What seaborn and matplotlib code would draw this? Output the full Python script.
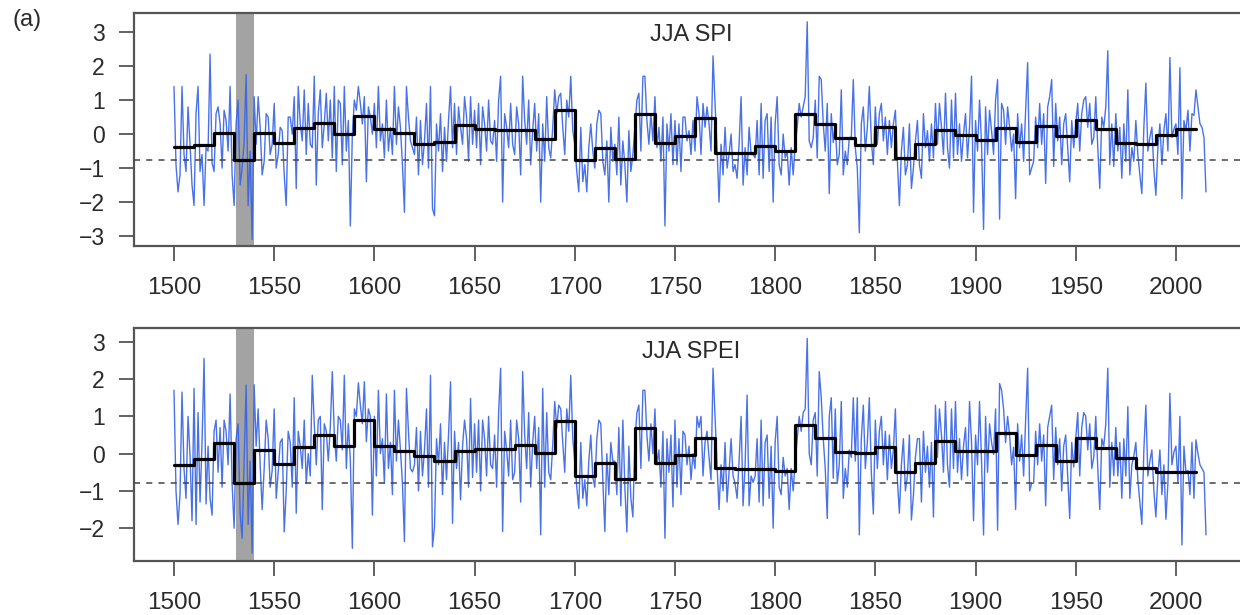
import matplotlib
matplotlib.use("Agg")
import matplotlib.pyplot as plt
import seaborn as sns
import pandas as pd

# annual JJA values, 1500-2015 (one row per decade)
years = list(range(1500, 2016))

spi = [
    1.4, -0.9, -1.7, -1.2, 1.4, -0.6, -1.1, 0.8, -0.3, -1.5,
    -2.1, 0.6, 1.4, -1.1, -0.6, -2.1, -0.4, -0.5, 2.35, -0.85,
    -1.1, 0.6, 0.8, 0.3, -1.0, 0.7, 0.4, -0.5, 1.4, -1.2,
    -2.1, 0.3, 1.0, -1.5, -1.0, -0.25, 1.75, -2.1, -0.5, -3.1,
    1.1, -0.3, 1.1, 0.2, -1.2, -0.8, 0.6, 0.5, -0.6, -0.3,
    0.9, -1.0, -0.6, 0.2, 0.1, -1.2, -2.1, 0.5, 0.5, 0.0,
    1.1, -1.6, 1.4, 0.3, -0.2, 1.3, -0.6, 0.9, -0.3, -0.4,
    1.7, -1.5, 0.6, 1.3, -0.4, 0.3, 1.2, -0.2, 1.0, -0.7,
    1.4, -1.1, 1.0, 0.9, -0.9, 1.4, -0.5, 0.4, -2.7, 0.0,
    1.0, 0.7, 1.4, 0.9, 0.3, 1.1, -1.4, 0.8, 0.5, 0.0,
    0.9, -0.4, 1.4, -0.2, 0.3, -0.7, 1.0, -0.5, 0.2, -0.6,
    1.4, -0.3, 0.8, 0.2, -0.9, -2.3, 1.4, 0.5, -0.2, -0.4,
    -0.6, 0.5, -1.2, 0.4, -0.9, -0.2, 0.9, -1.0, 1.4, -2.2,
    -2.4, 0.3, -0.5, 0.6, -1.1, 0.2, -0.8, 0.4, 1.4, -0.4,
    0.9, -0.6, 0.8, 0.2, -0.3, 1.1, 0.5, -0.8, 1.1, -0.3,
    0.7, -0.4, 0.9, -0.9, 0.8, 0.3, -0.5, 1.0, -0.2, -0.3,
    0.4, -0.8, 1.0, 1.7, -2.0, 0.6, 0.2, -0.4, 0.9, -0.3,
    -0.6, 0.8, 0.3, -1.2, 1.7, 0.4, -0.3, 1.0, -0.9, 0.1,
    0.9, -0.5, 0.6, -2.0, 0.3, -0.8, 1.1, -0.4, -0.7, 0.2,
    1.3, 0.6, 1.1, 1.2, 0.2, -0.6, 1.0, 0.5, 1.7, 0.1,
    -0.3, -1.1, -1.7, 0.2, -1.4, -0.9, -1.7, -0.4, 0.3, -0.5,
    -1.0, 0.3, 0.7, 0.6, -0.8, -1.2, -0.2, -2.0, 0.2, -0.8,
    -0.3, -1.2, 0.5, -1.5, -0.2, -0.9, -2.0, 0.1, -1.1, -0.6,
    0.2, 1.0, 1.2, -0.5, 1.7, 1.7, 0.4, -0.3, 0.6, -0.2,
    1.1, -0.4, 0.2, -0.8, 0.5, -2.7, 0.3, -0.5, 0.6, -0.9,
    0.4, -0.9, 0.3, -1.1, 0.5, 0.5, -0.2, 0.1, -0.6, 0.4,
    -0.5, 1.1, 0.6, -0.6, 0.9, 0.2, 0.8, 0.3, -0.5, 2.3,
    0.9, -0.4, -2.0, -0.3, -1.2, 0.2, -1.0, -0.6, 0.0, -1.1,
    -0.9, -1.3, -0.3, 1.1, -1.5, -0.4, -1.2, 0.2, -0.6, -0.6,
    -0.7, 0.4, -1.2, 0.9, -1.3, 0.4, 0.6, -1.1, 0.5, -2.0,
    0.3, 1.1, -0.9, -1.2, 0.0, -0.7, -0.5, -1.5, -0.4, -1.2,
    -0.3, 0.2, 0.9, 0.5, 0.8, 1.1, 3.3, -0.2, -0.4, -0.1,
    1.0, -0.7, 1.7, 1.6, 0.3, -0.5, 0.9, -1.75, 0.6, -0.25,
    0.3, -0.9, -0.6, 1.3, -1.2, -0.5, -0.9, -0.1, -0.1, 1.6,
    -0.4, -1.0, -2.9, 0.3, 0.8, -0.5, 0.2, 1.4, -0.2, -0.9,
    0.8, -0.3, 0.6, 0.9, -0.2, 0.5, -0.6, 0.4, -0.4, 0.3,
    0.7, -0.8, -2.1, -0.5, 0.2, -1.2, -0.9, 0.3, -1.6, -1.0,
    -0.2, 0.4, -0.9, -1.3, 0.6, -0.4, 0.1, -0.8, 0.3, -0.7,
    0.9, -0.3, 0.9, 0.2, -0.6, 1.2, -0.4, -1.0, 1.0, -0.7,
    1.2, -0.6, 0.3, -0.8, 0.0, 0.6, -0.7, 0.2, 1.7, -2.3,
    0.4, -0.5, 1.0, -0.3, -2.8, 0.8, -0.6, 0.7, 0.1, -0.6,
    1.0, 1.6, -2.5, 0.9, 0.7, -0.3, 0.8, 0.2, -0.5, 0.0,
    -1.9, 0.6, -0.4, 0.3, -0.8, 0.7, 2.1, -1.2, -1.0, -0.8,
    0.5, -0.4, 0.9, -0.3, 0.6, -1.45, 0.8, 1.1, 1.6, -0.95,
    0.9, -0.2, 0.5, -0.9, 0.3, 0.6, -0.4, -1.4, 0.4, -0.4,
    0.3, 0.9, -0.5, 0.6, 1.0, 1.1, 0.2, 0.9, -0.3, -0.1,
    1.1, -0.4, -1.6, 0.5, 0.2, 0.8, 2.45, -0.9, 0.3, -0.95,
    0.6, -0.5, 0.2, -1.3, 0.3, -0.8, 1.3, -1.2, -0.4, -0.8,
    0.4, -0.6, -1.2, -1.75, 0.2, 1.5, -0.5, -0.1, 0.2, -1.05,
    -1.8, -0.4, 0.3, -0.9, 0.1, 0.6, -0.5, 2.25, -0.1, 0.15,
    0.3, -0.6, 1.95, -1.9, 0.4, 0.1, 0.7, -0.5, 0.6, 0.55,
    1.3, 0.8, 0.3, 0.2, -0.1, -1.7,
]

spei = [
    1.7, -1.0, -1.9, -1.1, 1.65, -0.4, -1.2, 1.0, -0.05, -1.8,
    1.75, -1.9, 1.1, -1.3, 0.3, 2.55, -1.35, 0.2, -1.2, -1.65,
    0.6, 0.9, -0.5, 0.7, -0.9, 0.9, 0.6, -0.3, 1.6, -0.8,
    -2.0, 0.4, 0.8, -1.6, -2.27, -0.2, 1.84, -1.9, -0.2, -2.67,
    1.85, 0.2, 1.2, -0.3, -1.5, -0.4, 0.9, 0.4, -0.9, -0.45,
    1.2, -1.2, -0.5, 0.3, 0.4, -2.1, -1.0, 0.6, 0.3, -0.9,
    1.5, -1.6, 0.6, 0.2, -0.4, 0.9, -0.8, 0.0, -0.6, 2.1,
    0.8, -0.3, 0.9, 1.0, -1.5, 0.8, 0.6, -0.2, 0.7, 2.2,
    0.5, -0.2, 1.0, 0.9, 0.1, 2.1, -0.4, 0.8, -0.16, -2.54,
    1.2, 1.0, 1.9, 1.3, 0.8, 1.93, 0.32, 1.2, 1.0, -1.65,
    1.0, -0.6, 1.7, 0.0, 0.4, -0.8, 1.6, -0.4, 0.3, -1.1,
    1.7, -0.2, 0.9, 0.1, -0.8, -2.36, 1.75, 0.6, -0.4, -0.49,
    -0.3, 0.7, -1.0, 0.6, -0.6, 0.1, 1.2, -0.9, 2.1, -2.5,
    -1.96, 0.4, -0.3, 0.8, -1.1, 0.3, -0.7, 0.5, 1.93, -1.87,
    0.6, -0.4, 0.3, -1.24, 0.2, 0.9, 0.4, -0.9, 1.48, -0.64,
    0.8, -0.5, 0.9, -1.0, 0.9, 0.4, -0.6, 1.0, -0.3, -0.4,
    0.5, -0.9, 1.1, 2.29, -2.09, 0.6, 0.1, -0.6, 0.9, -0.7,
    -0.5, 0.9, 0.4, -1.3, 2.2, 0.5, -0.4, 1.1, -0.9, 0.3,
    1.0, -0.4, 0.7, -2.18, 1.75, -0.9, 1.1, -0.5, -0.7, 0.23,
    1.4, 0.7, 1.3, 1.2, 0.3, -0.5, 1.2, 0.6, 2.1, 0.4,
    -0.2, -0.9, -1.47, 0.3, -1.2, -0.7, -1.4, -0.2, 0.5, -0.63,
    -0.9, 0.4, 0.9, 0.8, -0.7, -2.09, 0.0, -1.1, 0.3, -0.21,
    -0.2, -1.1, 0.7, -1.4, 0.9, -0.9, -2.1, 0.2, -1.2, -1.7,
    0.3, 1.1, 1.3, -0.4, 1.7, 1.7, 0.5, -0.2, 0.8, 0.0,
    1.2, -0.3, 0.1, -0.9, 0.6, -2.27, 0.4, -0.5, 0.5, -1.43,
    0.9, -0.9, 0.4, -1.1, 0.6, 0.5, -0.3, 0.2, -0.7, 0.0,
    -0.4, 1.0, 0.7, 1.0, -0.6, 0.3, 0.6, -0.1, -0.7, 2.29,
    1.0, -0.3, -1.5, -0.3, -1.0, 0.3, -1.3, -0.5, 0.4, -0.6,
    -0.8, -1.2, -0.2, 1.0, -1.4, -0.3, 1.57, -1.4, -0.6, -0.77,
    -0.6, 0.4, -1.3, 0.9, -1.4, 0.3, 0.5, -1.2, 0.2, -2.0,
    0.3, 1.0, -0.9, -1.1, -0.1, -0.6, -0.4, -1.5, -0.4, -1.0,
    -0.2, 0.4, 1.0, 0.6, 1.1, 1.2, 3.09, 0.0, -0.3, 0.91,
    1.1, -0.6, 2.2, 1.5, 0.4, -0.4, -1.74, 1.0, 1.5, -0.66,
    1.2, -0.8, -0.3, 1.4, -1.2, -0.4, -0.9, 0.1, -0.1, 1.5,
    -0.2, 1.5, -2.18, 0.4, 1.3, -0.4, 0.3, 1.5, -0.5, -1.62,
    0.9, -0.4, 0.6, 1.0, -0.3, 0.6, -0.7, 0.5, -0.4, 0.1,
    1.2, -0.7, -1.6, -0.3, 0.4, -1.0, -0.6, 0.5, -1.78, -1.12,
    -0.1, 0.4, 0.4, -1.3, 0.6, -0.5, 0.2, -0.9, 0.3, -1.7,
    1.3, -0.1, 1.2, 0.5, -0.5, 1.4, -0.3, -0.9, 1.2, -0.4,
    1.4, -0.5, 0.4, -0.7, 0.2, 0.7, -0.6, 1.4, 0.3, -1.8,
    0.5, -0.3, 1.4, -0.2, -2.18, 1.0, -0.5, 0.8, 0.3, -0.02,
    1.2, -2.05, 1.88, 1.7, 1.2, 0.3, 1.0, 0.5, -0.3, 0.17,
    -1.5, 0.8, -0.2, 0.5, -0.6, 0.9, 2.29, -1.0, -0.8, -0.79,
    0.6, -0.3, 0.8, -0.2, 0.5, -1.4, 0.7, 1.0, 1.3, -0.7,
    0.7, -0.3, 0.4, -1.0, 0.2, 0.5, -0.6, -1.74, 0.3, -0.36,
    0.4, 1.1, -0.6, 0.7, 1.1, 1.0, 0.1, 0.8, -0.4, -0.1,
    1.0, -0.4, -1.5, 0.4, 0.2, 0.8, 2.29, -0.9, 0.3, -0.59,
    0.7, -0.6, 0.3, -1.2, 0.4, -0.6, 1.26, -1.2, -0.3, -0.06,
    0.3, -0.7, -1.3, -1.9, 0.1, 1.3, -0.6, -0.2, 0.1, -1.0,
    -1.7, -0.6, 0.1, -1.1, -0.3, -1.76, -0.8, 1.62, -0.3, 0.04,
    0.2, -0.8, 1.0, -2.45, 0.2, -0.5, -0.45, -1.1, 0.3, -1.2,
    0.37, 0.0, -0.3, -0.4, -0.5, -2.18,
]

# decadal means (black steps), 1500s ... 2000s
decades = list(range(1500, 2001, 10))
spi_decadal = [
    -0.37, -0.33, 0.04, -0.75, 0.03, -0.27, 0.19, 0.33, -0.01, 0.53,
    0.14, 0.02, -0.29, -0.23, 0.26, 0.14, 0.13, 0.13, -0.13, 0.71,
    -0.75, -0.42, -0.72, 0.58, -0.26, -0.06, 0.46, -0.55, -0.55, -0.35,
    -0.50, 0.58, 0.29, -0.11, -0.32, 0.20, -0.69, -0.29, 0.12, -0.04,
    -0.18, 0.19, -0.24, 0.24, -0.06, 0.41, 0.15, -0.26, -0.29, -0.03,
    0.16,
]
spei_decadal = [
    -0.31, -0.15, 0.28, -0.78, 0.10, -0.29, 0.19, 0.50, 0.21, 0.90,
    0.21, 0.08, -0.06, -0.20, 0.07, 0.12, 0.12, 0.23, 0.01, 0.87,
    -0.59, -0.26, -0.68, 0.68, -0.26, -0.04, 0.41, -0.38, -0.41, -0.42,
    -0.47, 0.78, 0.43, 0.05, 0.01, 0.19, -0.50, -0.26, 0.34, 0.08,
    0.08, 0.56, -0.04, 0.23, -0.19, 0.41, 0.16, -0.13, -0.39, -0.48,
    -0.48,
]

thresholds = {"JJA SPI": -0.75, "JJA SPEI": -0.78}
shade_span = (1531, 1540)

assert len(spi) == len(years) and len(spei) == len(years)

sns.set_style("ticks")
plt.rcParams["font.family"] = ["Liberation Sans", "DejaVu Sans"]

fig = plt.figure(figsize=(12.4, 6.15), dpi=100)
ax1 = fig.add_axes([0.108, 0.600, 0.8985, 0.3789])
ax2 = fig.add_axes([0.108, 0.0878, 0.8985, 0.3789])


def draw_panel(ax, vals, dec_vals, title, ylim, yticks, title_y):
    df = pd.DataFrame({"year": years, "value": vals})
    steps = pd.DataFrame({"year": decades + [decades[-1] + 10],
                          "value": dec_vals + [dec_vals[-1]]})

    ax.axvspan(*shade_span, color="#a3a3a3", lw=0, zorder=1)
    sns.lineplot(data=df, x="year", y="value", ax=ax, color="#3563e6",
                 lw=1.0, alpha=0.9, zorder=2)
    ax.axhline(thresholds[title], color="#444444", lw=1.1,
               ls=(0, (4, 4)), zorder=3)
    sns.lineplot(data=steps, x="year", y="value", ax=ax, color="black",
                 lw=2.3, drawstyle="steps-post", zorder=4)

    ax.set_xlim(1480, 2036)
    ax.set_ylim(*ylim)
    ax.set_xticks(range(1500, 2001, 50))
    ax.set_yticks(yticks)
    ax.set_xlabel("")
    ax.set_ylabel("")
    for s in ax.spines.values():
        s.set_visible(True)
        s.set_color("#555555")
        s.set_linewidth(1.6)
    ax.tick_params(axis="both", direction="out", length=11, width=1.3,
                   color="#555555", labelcolor="#2a2a2a",
                   bottom=True, left=True, top=False, right=False)
    ax.tick_params(axis="x", labelsize=17.5, pad=11)
    ax.tick_params(axis="y", labelsize=16.5, pad=10)
    ax.text(0.5, title_y, title, transform=ax.transAxes, ha="center",
            va="center", fontsize=17, color="#2a2a2a")


draw_panel(ax1, spi, spi_decadal, "JJA SPI", (-3.29, 3.56),
           [-3, -2, -1, 0, 1, 2, 3], 0.905)
draw_panel(ax2, spei, spei_decadal, "JJA SPEI", (-2.88, 3.37),
           [-2, -1, 0, 1, 2, 3], 0.897)

fig.text(0.01, 0.967, "(a)", fontsize=17, color="#2a2a2a",
         ha="left", va="center")

fig.savefig("out.png", dpi=100)
